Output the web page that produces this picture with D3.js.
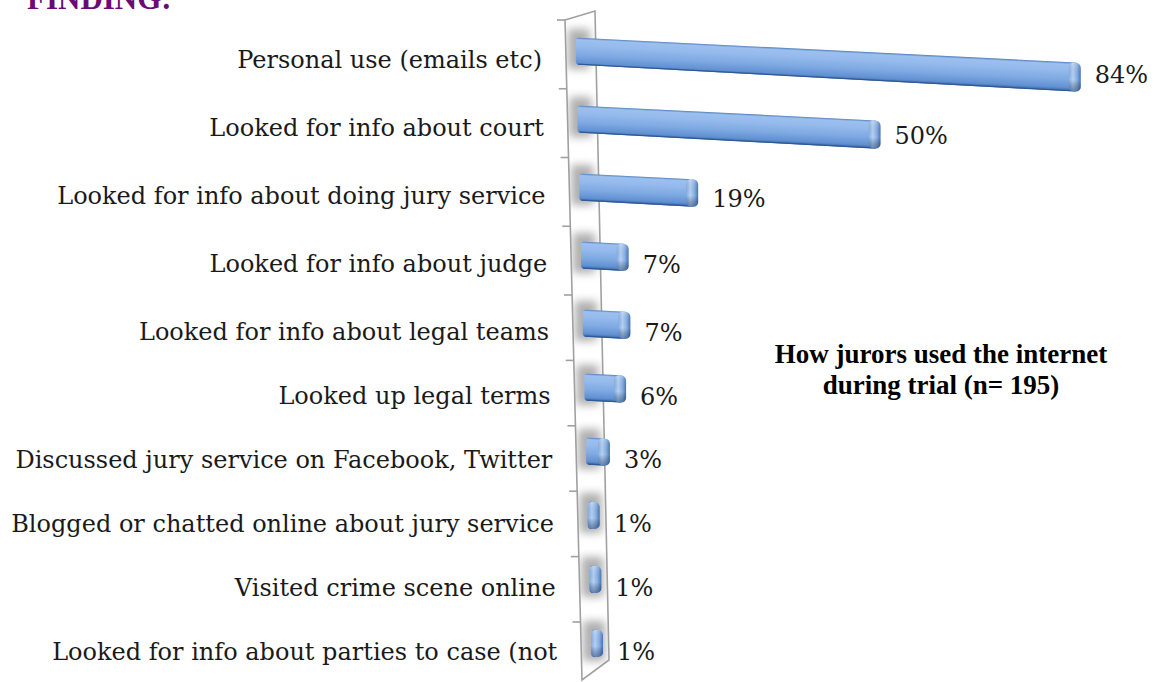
<!DOCTYPE html>
<html><head><meta charset="utf-8">
<script src="https://cdn.jsdelivr.net/npm/d3@7"></script>
<style>html,body{margin:0;padding:0;background:#fff;} svg{display:block}</style>
</head><body>
<svg id="chart" width="1159" height="682"></svg>
<script>
const categories = [
  "Personal use (emails etc)",
  "Looked for info about court",
  "Looked for info about doing jury service",
  "Looked for info about judge",
  "Looked for info about legal teams",
  "Looked up legal terms",
  "Discussed jury service on Facebook, Twitter",
  "Blogged or chatted online about jury service",
  "Visited crime scene online",
  "Looked for info about parties to case (not"
];
const values = [84, 50, 19, 7, 7, 6, 3, 1, 1, 1];
const valueLabels = ["84%", "50%", "19%", "7%", "7%", "6%", "3%", "1%", "1%", "1%"];
const titleLines = ["How jurors used the internet", "during trial (n= 195)"];
const headerText = "FINDING:";

const svg = d3.select("#chart");
const labelFont = "'DejaVu Serif', serif";
const idx = d3.range(categories.length);

// perspective-ish layout scales
const yRow = d3.scaleLinear().domain([0, 4, 9]).range([51, 323, 643]);
const yTick = d3.scaleLinear().domain([0, 4, 9]).range([20, 295, 622]);
const wallL = d3.scaleLinear().domain([20, 680]).range([565, 582]);
const wallR = d3.scaleLinear().domain([11, 660]).range([595, 609]);
const xLen = d3.scaleLinear().domain([0, 100]).range([0, 594]);
const slope = 0.05, capW = 6, h0 = 27;
const skewDeg = Math.atan(slope) * 180 / Math.PI;

const defs = svg.append("defs");
const bodyG = defs.append("linearGradient").attr("id", "bodyGrad")
  .attr("x1", 0).attr("y1", 0).attr("x2", 0).attr("y2", 1);
[[0, "#4f7dbd"], [0.07, "#9cc0ee"], [0.3, "#94b9ec"], [0.6, "#7ea9e2"], [0.88, "#6190d2"], [1, "#33609f"]]
  .forEach(([o, c]) => bodyG.append("stop").attr("offset", o).attr("stop-color", c));
const capG = defs.append("linearGradient").attr("id", "capGrad")
  .attr("x1", 0).attr("y1", 0).attr("x2", 1).attr("y2", 0);
[[0, "#84ade6"], [0.35, "#b6d2f5"], [0.7, "#88afe4"], [1, "#4575b6"]]
  .forEach(([o, c]) => capG.append("stop").attr("offset", o).attr("stop-color", c));
const capS = defs.append("linearGradient").attr("id", "capShade")
  .attr("x1", 0).attr("y1", 0).attr("x2", 0).attr("y2", 1);
[[0, "#ffffff", 0.15], [0.6, "#000000", 0], [1, "#0a2a60", 0.45]]
  .forEach(([o, c, a]) => capS.append("stop").attr("offset", o).attr("stop-color", c).attr("stop-opacity", a));
defs.append("filter").attr("id", "blur").attr("x", "-50%").attr("y", "-50%").attr("width", "200%").attr("height", "200%")
  .append("feGaussianBlur").attr("stdDeviation", 4);

// wall
const wallPts = [[wallL(20), 20], [wallR(11), 11], [wallR(660), 660], [wallL(680), 680]];
defs.append("clipPath").attr("id", "wallClip").append("polygon").attr("points", wallPts.join(" "));
svg.append("polygon").attr("points", wallPts.join(" ")).attr("fill", "#fff");

// shadows on the wall
svg.append("g").attr("clip-path", "url(#wallClip)")
  .selectAll("rect").data(idx).join("rect")
  .attr("x", i => wallL(yRow(i)) + 2)
  .attr("y", i => yRow(i) - 22)
  .attr("width", 22)
  .attr("height", 40)
  .attr("fill", "#7a7a7a")
  .attr("opacity", 0.6)
  .attr("filter", "url(#blur)");

svg.append("polygon").attr("points", wallPts.join(" "))
  .attr("fill", "none").attr("stroke", "#a0a0a0").attr("stroke-width", 1.6);

// ticks
svg.append("g").selectAll("line").data(idx).join("line")
  .attr("x1", i => wallL(yTick(i)) - 8).attr("x2", i => wallL(yTick(i)))
  .attr("y1", i => yTick(i)).attr("y2", i => yTick(i))
  .attr("stroke", "#a0a0a0").attr("stroke-width", 1.6);

// bars
const bars = svg.append("g").selectAll("g").data(idx).join("g")
  .attr("transform", i => {
    const yc = yRow(i), x0 = wallL(yc) + 10;
    return `translate(${x0},${yc}) skewY(${skewDeg})`;
  });
bars.each(function (i) {
  const g = d3.select(this);
  const len = xLen(values[i]) + capW;
  const h1 = h0 + 0.004 * len;
  const t = -h0 / 2;
  const bEnd = t + h1;
  const p = d3.path();
  p.moveTo(3, t);
  p.lineTo(len - 5, t);
  p.lineTo(len - 5, bEnd);
  p.lineTo(3, -t);
  p.quadraticCurveTo(0, -t, 0, -t - 3);
  p.lineTo(0, t + 3);
  p.quadraticCurveTo(0, t, 3, t);
  p.closePath();
  g.append("path").attr("d", p.toString()).attr("fill", "url(#bodyGrad)");
  g.append("line").attr("x1", 2).attr("x2", len - 5).attr("y1", -t - 0.5).attr("y2", bEnd - 0.5)
    .attr("stroke", "#2f5a96").attr("stroke-width", 1.2);
  const cw = Math.min(12, len);
  g.append("rect").attr("x", len - cw).attr("y", t).attr("width", cw).attr("height", h1)
    .attr("rx", 5).attr("fill", "url(#capGrad)");
  g.append("rect").attr("x", len - cw).attr("y", t).attr("width", cw).attr("height", h1)
    .attr("rx", 5).attr("fill", "url(#capShade)");
});

// category labels
svg.append("g").selectAll("text").data(idx).join("text")
  .attr("x", i => wallL(yRow(i) + 9) - 24)
  .attr("y", i => yRow(i) + 9)
  .attr("dy", "0.35em")
  .attr("text-anchor", "end")
  .attr("font-family", labelFont)
  .attr("font-size", 24)
  .attr("fill", "#1a1a1a")
  .text(i => categories[i]);

// value labels
svg.append("g").selectAll("text").data(idx).join("text")
  .attr("x", i => wallL(yRow(i)) + 10 + xLen(values[i]) + capW + 14)
  .attr("y", i => yRow(i) + 8 + 0.03 * (xLen(values[i]) + capW))
  .attr("dy", "0.35em")
  .attr("font-family", labelFont)
  .attr("font-size", 24)
  .attr("fill", "#1a1a1a")
  .text(i => valueLabels[i]);

// title
svg.append("g").selectAll("text").data(titleLines).join("text")
  .attr("x", 941)
  .attr("y", (d, k) => 363 + k * 31)
  .attr("text-anchor", "middle")
  .attr("font-family", "'Liberation Serif', 'Times New Roman', serif")
  .attr("font-weight", "bold")
  .attr("font-size", 27)
  .attr("fill", "#000")
  .text(d => d);

// header (cut off at top, as in the reference)
svg.append("text").attr("x", 27).attr("y", 9)
  .attr("font-family", "'Liberation Serif', serif")
  .attr("font-weight", "bold").attr("font-size", 31)
  .attr("fill", "#6c0a74")
  .text(headerText);
</script>
</body></html>
